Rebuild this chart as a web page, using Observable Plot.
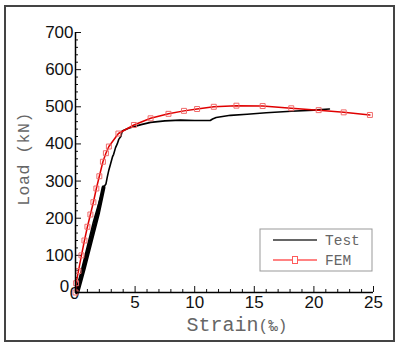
<!DOCTYPE html>
<html><head><meta charset="utf-8">
<script src="https://cdn.jsdelivr.net/npm/d3@7"></script>
<script src="https://cdn.jsdelivr.net/npm/@observablehq/plot@0.6"></script>
<style>
body{margin:0;background:#fff}
#c{position:relative;width:397px;height:343px}
</style>
</head><body><div id="c"></div>
<script>
// ---- data ----
const seriesNames = ["Test", "FEM"];
const xLabel = "Strain";
const xUnit = "(‰)";
const yLabel = "Load (kN)";

// initial cyclic (thick) branch of the test curve
const testCycleStrain = [0.15, 0.7, 1.3, 1.9, 2.35];
const testCycleLoad   = [0, 65, 140, 215, 283];

const testStrain = [0, 0.5, 1.0, 1.5, 2.0, 2.4, 2.55, 2.6, 2.66, 2.8, 2.94, 3.1, 3.2, 3.36, 3.5, 3.64, 3.8, 3.92, 4.06, 4.5, 4.9, 5.5, 6.3, 7.5, 8.8, 10.0, 11.3, 11.5, 11.8, 13.0, 14.4, 16.0, 18.1, 20.0, 21.3];
const testLoad   = [0, 60, 125, 190, 245, 285, 292, 300, 310, 330, 346, 365, 372, 390, 400, 413, 420, 435, 437, 443, 446, 452, 458, 462, 464, 463, 463, 467, 471, 477, 480, 484, 488, 491, 494];

const femStrain = [0, 0.05, 0.25, 0.5, 0.75, 1.0, 1.25, 1.5, 1.75, 2.0, 2.3, 2.55, 2.8, 3.6, 4.9, 6.3, 7.8, 9.1, 10.2, 11.6, 13.5, 15.7, 18.1, 20.4, 22.5, 24.7];
const femLoad   = [0, 25, 58, 100, 140, 177, 210, 243, 280, 313, 352, 375, 393, 428, 451, 469, 481, 489, 494, 500, 503, 502, 496, 491, 485, 478];

const xMajorTicks = [0, 5, 10, 15, 20, 25];
const xMinorTicks = [1, 2, 3, 4, 6, 7, 8, 9, 11, 12, 13, 14, 16, 17, 18, 19, 21, 22, 23, 24];
const yMajorTicks = [0, 100, 200, 300, 400, 500, 600, 700];
const yMinorTicks = [20, 40, 60, 80, 120, 140, 160, 180, 220, 240, 260, 280, 320, 340, 360, 380, 420, 440, 460, 480, 520, 540, 560, 580, 620, 640, 660, 680];
const originLabel = "0";

const testCycle = testCycleStrain.map((s, i) => ({strain: s, load: testCycleLoad[i]}));
const test = testStrain.map((s, i) => ({strain: s, load: testLoad[i]}));
const fem = femStrain.map((s, i) => ({strain: s, load: femLoad[i]}));
const origin = [{strain: 0, load: 0, label: originLabel}];
const noZero = d => (d === 0 ? "" : String(d));

const W = 397, H = 343;
const chart = Plot.plot({
  width: W, height: H,
  marginLeft: 75, marginRight: 24, marginTop: 32, marginBottom: 51,
  x: {domain: [0, 25]},
  y: {domain: [0, 700]},
  style: {fontFamily: "'Liberation Sans', Arial, sans-serif", background: "transparent", overflow: "visible"},
  marks: [
    Plot.axisX(xMinorTicks, {tickSize: -3, tickFormat: () => "", label: null, stroke: "#111"}),
    Plot.axisX(xMajorTicks, {tickSize: -6, tickPadding: 9, fontSize: 17, fill: "#111", stroke: "#111", label: null, tickFormat: noZero}),
    Plot.axisY(yMinorTicks, {tickSize: -3, tickFormat: () => "", label: null, stroke: "#111"}),
    Plot.axisY(yMajorTicks, {tickSize: -6, tickPadding: 8, fontSize: 17, fill: "#111", stroke: "#111", label: null, tickFormat: noZero}),
    // origin labels, offset as in the reference
    Plot.text(origin, {x: "strain", y: "load", text: "label", fontSize: 17, fill: "#111", dx: -11, dy: -6}),
    Plot.text(origin, {x: "strain", y: "load", text: "label", fontSize: 17, fill: "#111", dx: -1, dy: 1}),
    Plot.line(testCycle, {x: "strain", y: "load", stroke: "#000", strokeWidth: 4}),
    Plot.line(test, {x: "strain", y: "load", stroke: "#000", strokeWidth: 1.6}),
    Plot.line(fem, {x: "strain", y: "load", stroke: "#e00000", strokeWidth: 1.5}),
    Plot.dot(fem, {x: "strain", y: "load", symbol: "square", r: 2.8, stroke: "#f06a6a", strokeWidth: 1, fill: "none"}),
    Plot.ruleY([0], {stroke: "#000", strokeWidth: 1.5}),
    Plot.ruleX([0], {stroke: "#000", strokeWidth: 1.5})
  ]
});
document.getElementById("c").appendChild(chart);

const MONO = "'Liberation Mono', 'Courier New', monospace";
const svg = d3.select(chart);
// outer frame
svg.append("rect").attr("x", 5).attr("y", 6).attr("width", 389).attr("height", 335)
  .attr("fill", "none").attr("stroke", "#444").attr("stroke-width", 2);
// axis titles
const xt = svg.append("text").attr("x", 237).attr("y", 331)
  .style("text-anchor", "middle").style("fill", "#666").style("font-family", MONO);
xt.append("tspan").style("font-size", "20px").text(xLabel);
xt.append("tspan").style("font-size", "16px").text(xUnit);
svg.append("text").attr("transform", "translate(29,159) rotate(-90)")
  .style("text-anchor", "middle").style("fill", "#666").style("font-size", "16.5px")
  .style("letter-spacing", "0.5px").style("font-family", MONO)
  .text(yLabel);
// legend
const lg = svg.append("g");
lg.append("rect").attr("x", 260).attr("y", 229).attr("width", 112).attr("height", 42)
  .attr("fill", "#fff").attr("stroke", "#999").attr("stroke-width", 1);
const rows = [
  {name: seriesNames[0], y: 240, stroke: "#333", marker: false},
  {name: seriesNames[1], y: 260, stroke: "#ff5a5a", marker: true}
];
rows.forEach(r => {
  lg.append("line").attr("x1", 273).attr("x2", 317).attr("y1", r.y).attr("y2", r.y)
    .attr("stroke", r.stroke).attr("stroke-width", 1.6);
  if (r.marker) lg.append("rect").attr("x", 292.5).attr("y", r.y - 3.5).attr("width", 5).attr("height", 7)
    .attr("fill", "#fff").attr("stroke", "#ff5a5a").attr("stroke-width", 1);
  lg.append("text").attr("x", 325).attr("y", r.y + 5)
    .style("text-anchor", "start").style("fill", "#666").style("font-size", "14.5px").style("font-family", MONO)
    .text(r.name);
});
</script></body></html>
